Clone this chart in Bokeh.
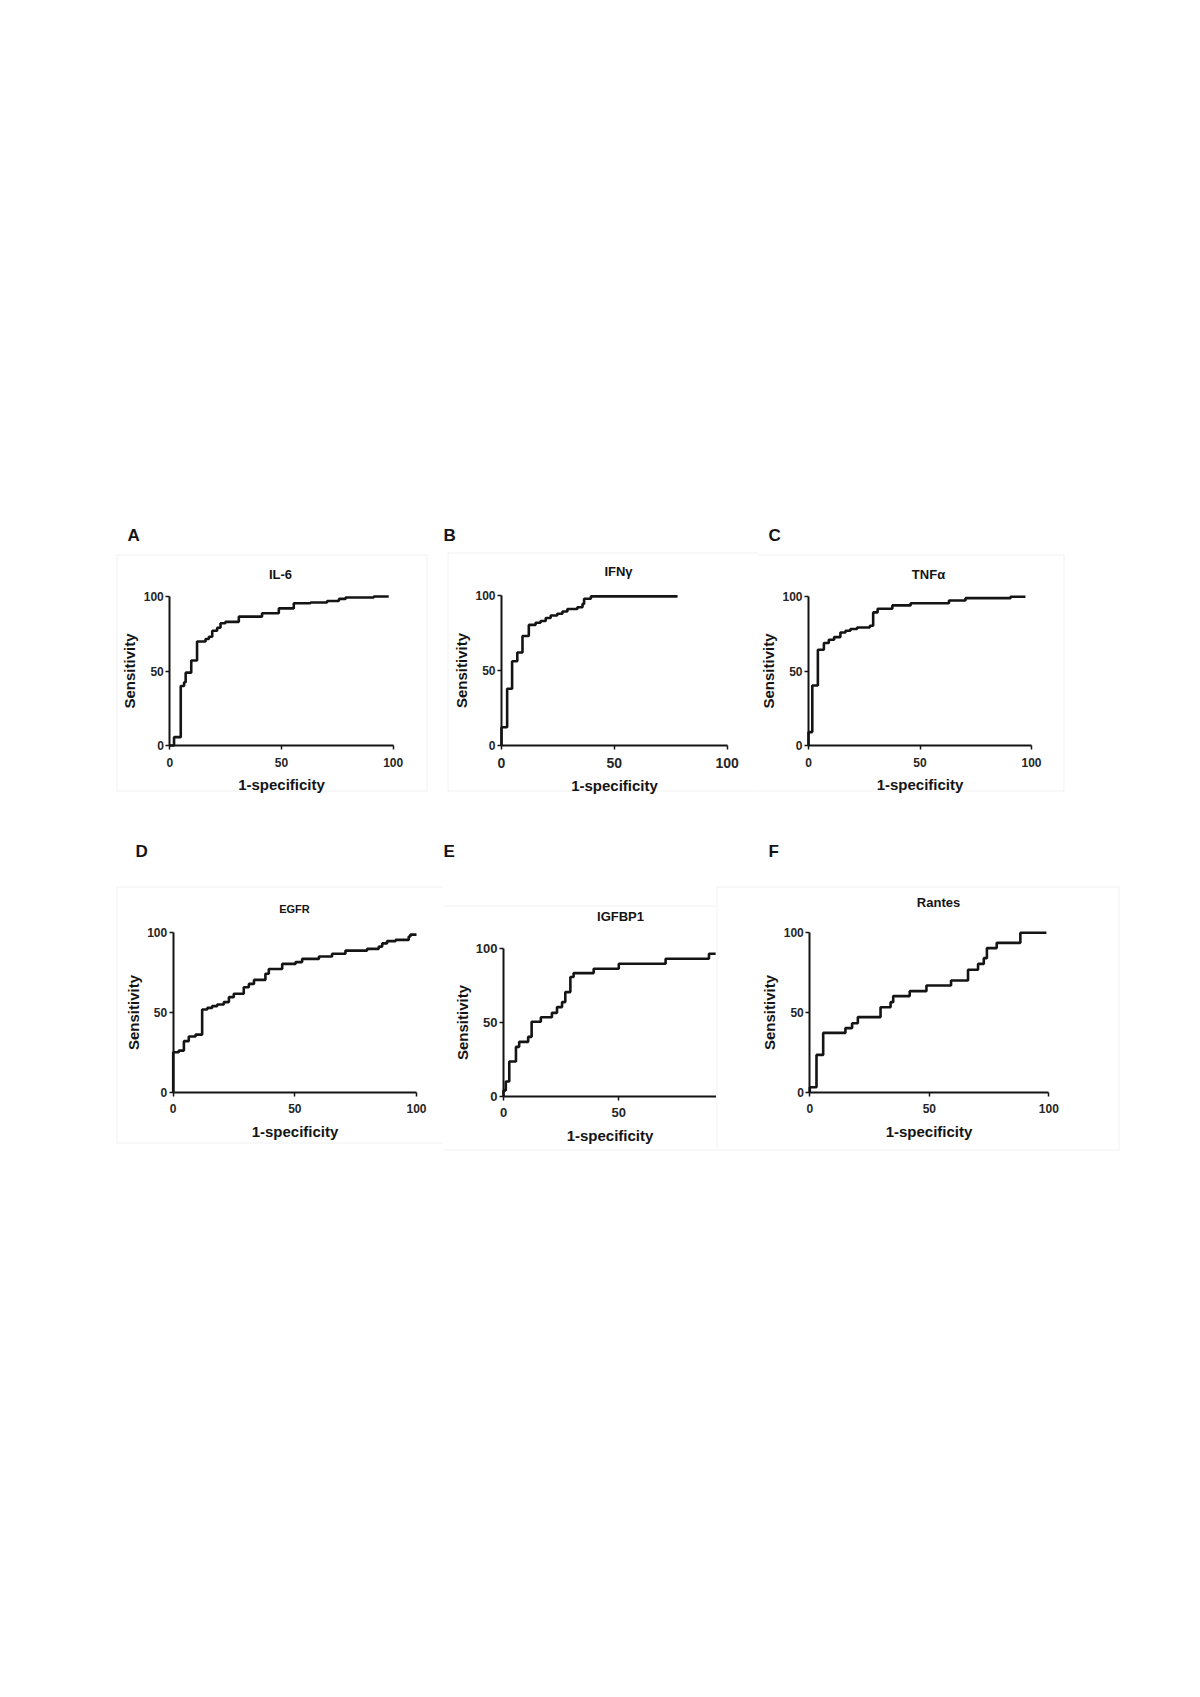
from bokeh.plotting import figure
from bokeh.models import Range1d, LinearAxis, FixedTicker, Label, Spacer, BoxAnnotation
from bokeh.layouts import row, column
from bokeh.embed import file_html
from bokeh.resources import INLINE

# ---------------- data ----------------
panel_letters = ["A", "B", "C", "D", "E", "F"]
panel_titles = ["IL-6", "IFNγ", "TNFα", "EGFR", "IGFBP1", "Rantes"]
tick_values = [0, 50, 100]
x_axis_label = "1-specificity"
y_axis_label = "Sensitivity"

il6_fpr = [0, 1.9, 4.9, 6.4, 7.1, 9.6, 12.2, 16.0, 17.5, 19.0, 21.2, 22.7, 24.9, 30.9,
           41.3, 48.8, 55.5, 63.0, 70.4, 75.7, 78.7, 91.3, 98.0]
il6_tpr = [0, 5.6, 39.9, 42.4, 48.9, 57.0, 69.8, 71.5, 73.0, 77.0, 79.0, 82.0, 83.0, 86.5,
           88.8, 92.0, 95.5, 96.0, 97.0, 98.4, 99.3, 100, 100]

ifng_fpr = [0, 0, 2.5, 4.7, 7.0, 9.3, 12.1, 15.1, 17.3, 19.6, 21.8, 24.7, 27.0, 29.2,
            33.6, 35.9, 36.6, 39.6, 78.0]
ifng_tpr = [0, 12.2, 37.8, 56.2, 62.0, 73.0, 80.4, 81.8, 83.0, 85.0, 86.7, 87.8, 89.3, 91.0,
            92.2, 94.4, 97.8, 99.4, 99.4]

tnfa_fpr = [0, 0, 1.7, 4.2, 6.9, 9.1, 11.5, 14.3, 16.6, 18.8, 21.8, 27.5, 29.0, 31.0,
            37.6, 45.8, 63.0, 70.4, 90.6, 97.3]
tnfa_tpr = [0, 9.0, 40.3, 64.4, 68.9, 71.1, 72.9, 76.0, 77.2, 78.3, 79.4, 80.5, 89.5, 92.0,
            94.2, 95.7, 97.5, 99.1, 100, 100]

egfr_fpr = [0, 0, 2.3, 4.4, 6.4, 9.2, 11.9, 14.0, 16.0, 18.1, 20.8, 22.9, 24.9, 29.0,
            31.1, 33.2, 37.9, 39.3, 44.8, 50.3, 53.0, 59.9, 65.3, 70.8, 79.7, 84.5,
            85.9, 87.9, 91.4, 96.8, 97.5, 100]
egfr_tpr = [0, 25.0, 26.0, 31.9, 34.8, 36.0, 51.7, 52.7, 53.8, 54.8, 56.3, 59.4, 61.5, 65.6,
            67.7, 70.2, 74.0, 77.0, 80.2, 81.3, 83.3, 84.8, 86.5, 88.5, 89.6, 91.0,
            93.0, 94.4, 95.2, 97.3, 98.5, 98.5]

igfbp1_fpr = [0, 0, 1.0, 2.5, 5.4, 6.8, 10.7, 12.2, 16.2, 21.0, 23.2, 25.4, 26.8, 29.0,
              30.4, 39.1, 50.0, 70.3, 89.1, 92.0]
igfbp1_tpr = [0, 3.8, 9.8, 23.4, 33.4, 36.8, 40.2, 50.4, 53.5, 56.5, 60.4, 63.8, 70.6, 80.8,
              83.5, 86.4, 89.8, 93.2, 96.6, 96.6]

rantes_fpr = [0, 0, 2.8, 5.6, 14.9, 17.7, 20.1, 29.6, 33.8, 34.9, 41.8, 48.8, 59.1, 66.2,
              70.4, 72.8, 74.1, 78.2, 88.1, 99.0]
rantes_tpr = [0, 3.1, 23.4, 37.2, 40.2, 43.3, 47.1, 53.3, 56.5, 60.3, 63.4, 66.9, 70.1, 76.8,
              80.5, 84.1, 90.4, 93.7, 100, 100]

series = [(il6_fpr, il6_tpr), (ifng_fpr, ifng_tpr), (tnfa_fpr, tnfa_tpr),
          (egfr_fpr, egfr_tpr), (igfbp1_fpr, igfbp1_tpr), (rantes_fpr, rantes_tpr)]

# ---------------- layout geometry (page pixels) ----------------
FONT = "Liberation Sans"
INK = "#141414"
BOX = "#cfcfcf"

geometry = [
    dict(canvas=(114, 520, 429, 800), box=(116.5, 554.5, 426.5, 790.5), origin=(169.3, 745), scale=(2.234, 1.49),
         letter=(127, 535), title=(280, 574), title_size=13, ytick=12, xtick=12, xaxis_end=100),
    dict(canvas=(441, 520, 758, 800), box=(447.5, 552.5, 764, 790.5), origin=(501, 745), scale=(2.257, 1.5),
         letter=(443, 535), title=(618, 571), title_size=13, ytick=12, xtick=14, xaxis_end=100),
    dict(canvas=(758, 520, 1070, 800), box=(752, 554.5, 1063.5, 790.5), origin=(808, 745), scale=(2.23, 1.487),
         letter=(768, 535), title=(928, 574), title_size=13, ytick=12, xtick=12, xaxis_end=100),
    dict(canvas=(114, 838, 443, 1158), box=(116.5, 886.5, 450, 1142.5), origin=(172.7, 1091.7), scale=(2.433, 1.6),
         letter=(135, 851), title=(294, 908), title_size=11, ytick=12, xtick=12, xaxis_end=100),
    dict(canvas=(443, 838, 716, 1158), box=(438, 905.5, 722, 1149.5), origin=(503, 1095.5), scale=(2.306, 1.472),
         letter=(443, 851), title=(620, 916), title_size=13, ytick=13, xtick=13, xaxis_end=None),
    dict(canvas=(716, 838, 1124, 1158), box=(716.5, 886.5, 1118.5, 1149.5), origin=(809.3, 1091.7), scale=(2.39, 1.594),
         letter=(768, 851), title=(938, 901.5), title_size=13, ytick=12, xtick=12, xaxis_end=100),
]


def style_axis(ax, tick_size):
    ax.axis_line_color = INK
    ax.axis_line_width = 2
    ax.major_tick_line_color = INK
    ax.major_tick_line_width = 1.5
    ax.major_tick_out = 4
    ax.major_tick_in = 0
    ax.minor_tick_line_color = None
    ax.major_label_text_font = FONT
    ax.major_label_text_font_style = "bold"
    ax.major_label_text_font_size = f"{tick_size}px"
    ax.major_label_text_color = "#262626"
    ax.axis_label_text_font = FONT
    ax.axis_label_text_font_style = "bold"
    ax.axis_label_text_font_size = "15px"
    ax.axis_label_text_color = INK
    props = ax.properties()
    if "axis_label_background_fill_color" in props:
        ax.axis_label_background_fill_color = "white"
    if "axis_label_padding" in props:
        ax.axis_label_padding = 6


def make_panel(fpr, tpr, letter, title, G):
    cx0, cy0, cx1, cy1 = G["canvas"]
    bx0, by0, bx1, by1 = G["box"]
    ox, oy = G["origin"]
    sx, sy = G["scale"]

    def dx(px):
        return (px - ox) / sx

    def dy(py):
        return (oy - py) / sy

    p = figure(width=cx1 - cx0, height=cy1 - cy0,
               x_range=Range1d(dx(cx0), dx(cx1)), y_range=Range1d(dy(cy1), dy(cy0)),
               x_axis_location=None, y_axis_location=None,
               toolbar_location=None, output_backend="svg",
               min_border=0, min_border_left=0, min_border_right=0,
               min_border_top=0, min_border_bottom=0)
    p.grid.visible = False
    p.outline_line_color = None
    p.background_fill_color = "white"
    p.border_fill_color = "white"

    # light frame around each pasted panel
    p.add_layout(BoxAnnotation(left=dx(bx0), right=dx(bx1), top=dy(by0), bottom=dy(by1),
                               fill_color=None, line_color=BOX, line_width=1,
                               level="underlay"))

    xend = G["xaxis_end"] if G["xaxis_end"] is not None else dx(cx1)
    xa = LinearAxis(fixed_location=0, bounds=(0, xend),
                    ticker=FixedTicker(ticks=tick_values, minor_ticks=[]),
                    axis_label=x_axis_label)
    style_axis(xa, G["xtick"])
    xa.major_label_standoff = 8
    xa.axis_label_standoff = 6
    p.add_layout(xa, "below")

    ya = LinearAxis(fixed_location=0, bounds=(0, 100),
                    ticker=FixedTicker(ticks=tick_values, minor_ticks=[]),
                    axis_label=y_axis_label)
    style_axis(ya, G["ytick"])
    ya.major_label_standoff = 2
    ya.axis_label_standoff = 2
    p.add_layout(ya, "left")

    p.step(x=fpr, y=tpr, mode="after", line_color=INK, line_width=2.6)

    lx, ly = G["letter"]
    p.add_layout(Label(x=dx(lx), y=dy(ly), text=letter, text_font=FONT,
                       text_font_style="bold", text_font_size="17px",
                       text_color=INK, text_align="left", text_baseline="alphabetic"))
    tx, ty = G["title"]
    p.add_layout(Label(x=dx(tx), y=dy(ty), text=title, text_font=FONT,
                       text_font_style="bold", text_font_size=f"{G['title_size']}px",
                       text_color=INK, text_align="center", text_baseline="alphabetic"))
    return p


panels = [make_panel(s[0], s[1], l, t, g)
          for s, l, t, g in zip(series, panel_letters, panel_titles, geometry)]

row1 = row(Spacer(width=114, height=280), panels[0], Spacer(width=12, height=280),
           panels[1], panels[2])
row2 = row(Spacer(width=114, height=320), panels[3], panels[4], panels[5])
layout = column(Spacer(width=10, height=520), row1, Spacer(width=10, height=38), row2)

open("out.html", "w").write(file_html(layout, INLINE))
